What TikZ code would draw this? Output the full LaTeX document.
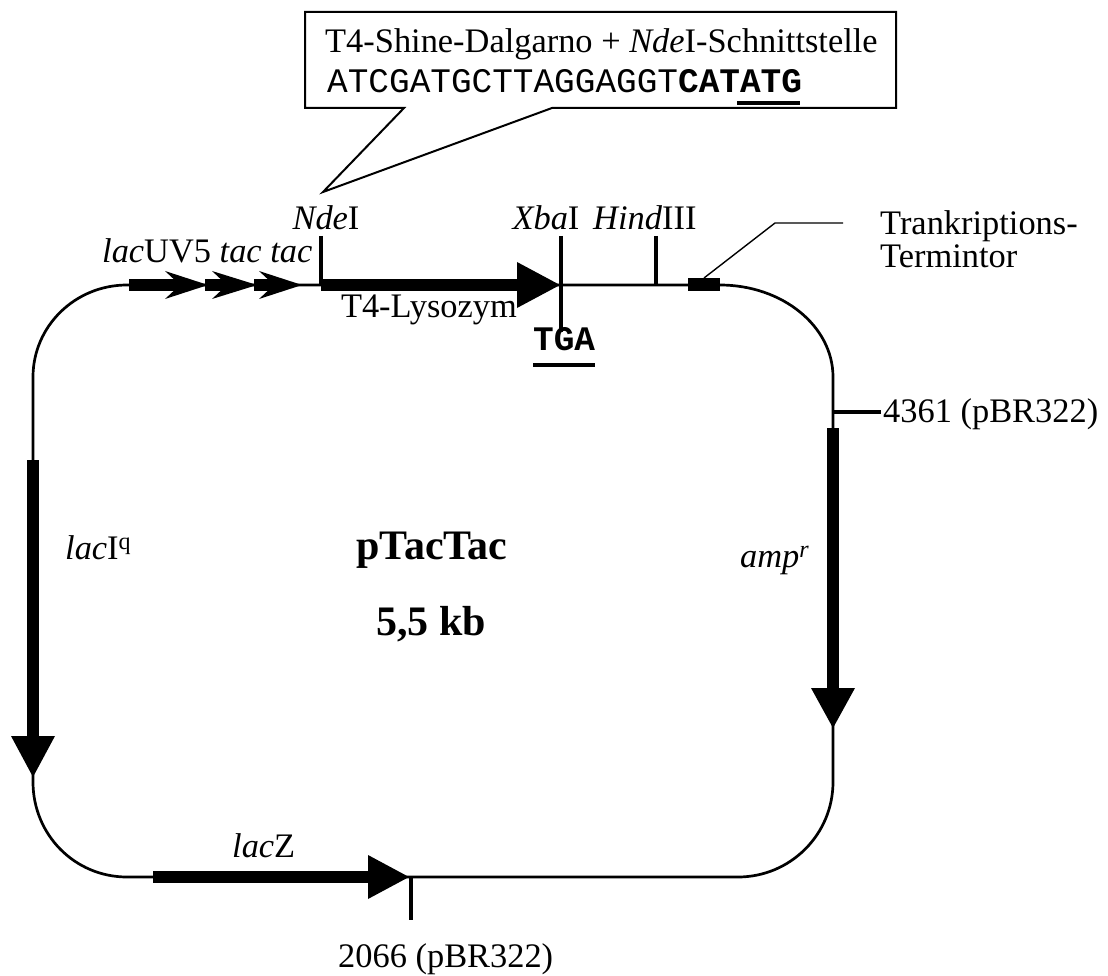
\documentclass[tikz,border=0pt]{standalone}
\usepackage{fontspec}
\setmainfont{Liberation Serif}
\setmonofont{Liberation Mono}
\begin{document}
\begin{tikzpicture}[x=1pt,y=-1pt,
  backbone/.style={line width=2.7pt},
  tickline/.style={line width=4pt},
  gene/.style={fill=black,draw=none},
  lbl/.style={inner sep=0pt,font=\fontsize{34.4}{40}\selectfont},
  biglbl/.style={inner sep=0pt,font=\fontsize{42}{48}\selectfont\bfseries},
  callout/.style={draw=black,line width=2pt,fill=white,line join=miter}]
\useasboundingbox (0,0) rectangle (1108,976);
% backbone
\draw[backbone] (127,285) -- (720,285)
  .. controls (782.4,285) and (833,326.2) .. (833,377)
  -- (833,782)
  .. controls (833,834.4) and (790.4,877) .. (738,877)
  -- (127,877)
  .. controls (74.6,877) and (33,834.6) .. (33,782)
  -- (33,377)
  .. controls (33,326.2) and (75.1,285) .. (127,285) -- cycle;
% promoter chevrons
\fill[gene] (129,279) rectangle (182,291);
\fill[gene] (208,285) -- (165,271) -- (180,285) -- (165,299) -- cycle;
\fill[gene] (205,279) rectangle (229,291);
\fill[gene] (257,285) -- (212,271) -- (227,285) -- (212,299) -- cycle;
\fill[gene] (254,279) rectangle (276,291);
\fill[gene] (302,285) -- (259,271) -- (274,285) -- (259,299) -- cycle;
% T4 lysozyme
\fill[gene] (321,279) rectangle (518,291);
\fill[gene] (517,262) -- (560,285) -- (517,308) -- cycle;
% lacI
\fill[gene] (27,460) rectangle (39,737);
\fill[gene] (11,736) -- (55,736) -- (33,777) -- cycle;
% amp
\fill[gene] (827,428) rectangle (839,689);
\fill[gene] (811,688) -- (855,688) -- (833,728) -- cycle;
% lacZ
\fill[gene] (153,871) rectangle (369,883);
\fill[gene] (368,855) -- (409,877) -- (368,899) -- cycle;
% terminator
\fill[gene] (688,278) rectangle (720,291);
% ticks
\coordinate (ndeT) at (321,236);
\coordinate (ndeB) at (321,285);
\draw[tickline] (ndeT) -- (ndeB);
\coordinate (xbaT) at (561,236);
\coordinate (xbaB) at (561,332);
\draw[tickline] (xbaT) -- (xbaB);
\coordinate (hindT) at (656,236);
\coordinate (hindB) at (656,285);
\draw[tickline] (hindT) -- (hindB);
\coordinate (t4361a) at (833,412);
\coordinate (t4361b) at (881,412);
\draw[tickline] (t4361a) -- (t4361b);
\coordinate (t2066a) at (411,877);
\coordinate (t2066b) at (411,920);
\draw[tickline] (t2066a) -- (t2066b);
% terminator leader
\coordinate (termA) at (704,278);
\coordinate (termB) at (775,223);
\coordinate (termC) at (843,223);
\draw[line width=1.4pt] (termA) -- (termB) -- (termC);
% callout
\draw[callout] (305,12) -- (896,12) -- (896,108) -- (552,108) -- (323,192) -- (404,108) -- (305,108) -- cycle;
\node[lbl,anchor=base west] (box1) at (325,53) {T4-Shine-Dalgarno + \textit{Nde}I-Schnittstelle};
\node[lbl,anchor=base west] (box2) at (327,93) {\ttfamily ATCGATGCTTAGGAGGT\textbf{CATATG}};
\coordinate (ulA) at (737,103);
\coordinate (ulB) at (800,103);
\draw[tickline] (ulA) -- (ulB);
% labels
\node[lbl,anchor=base west] (prom) at (102,263) {\textit{lac}UV5 \textit{tac tac}};
\node[lbl,anchor=base] (nde) at (326,230) {\textit{Nde}I};
\node[lbl,anchor=base] (xba) at (546,230) {\textit{Xba}I};
\node[lbl,anchor=base west] (hind) at (593,230) {\textit{Hind}III};
\node[lbl,anchor=base east] (lys) at (517,317) {T4-Lysozym};
\node[lbl,anchor=base west] (tga) at (533,350) {\ttfamily\bfseries TGA};
\coordinate (tgaA) at (533,365);
\coordinate (tgaB) at (595,365);
\draw[tickline] (tgaA) -- (tgaB);
\node[lbl,anchor=base west] (term1) at (880,235) {Trankriptions-};
\node[lbl,anchor=base west] (term2) at (880,268) {Termintor};
\node[lbl,anchor=base west] (p4361) at (883,422) {4361 (pBR322)};
\node[lbl,anchor=base west] (laci) at (65,559) {\textit{lac}I\textsuperscript{q}};
\node[biglbl,anchor=base] (name) at (432,559) {pTacTac};
\node[biglbl,anchor=base] (size) at (431,635) {5,5 kb};
\node[lbl,anchor=base west] (amp) at (740,567) {\textit{amp\textsuperscript{r}}};
\node[lbl,anchor=base west] (lacz) at (232,857) {\textit{lac}Z};
\node[lbl,anchor=base west] (p2066) at (338,967) {2066 (pBR322)};
\end{tikzpicture}
\end{document}
